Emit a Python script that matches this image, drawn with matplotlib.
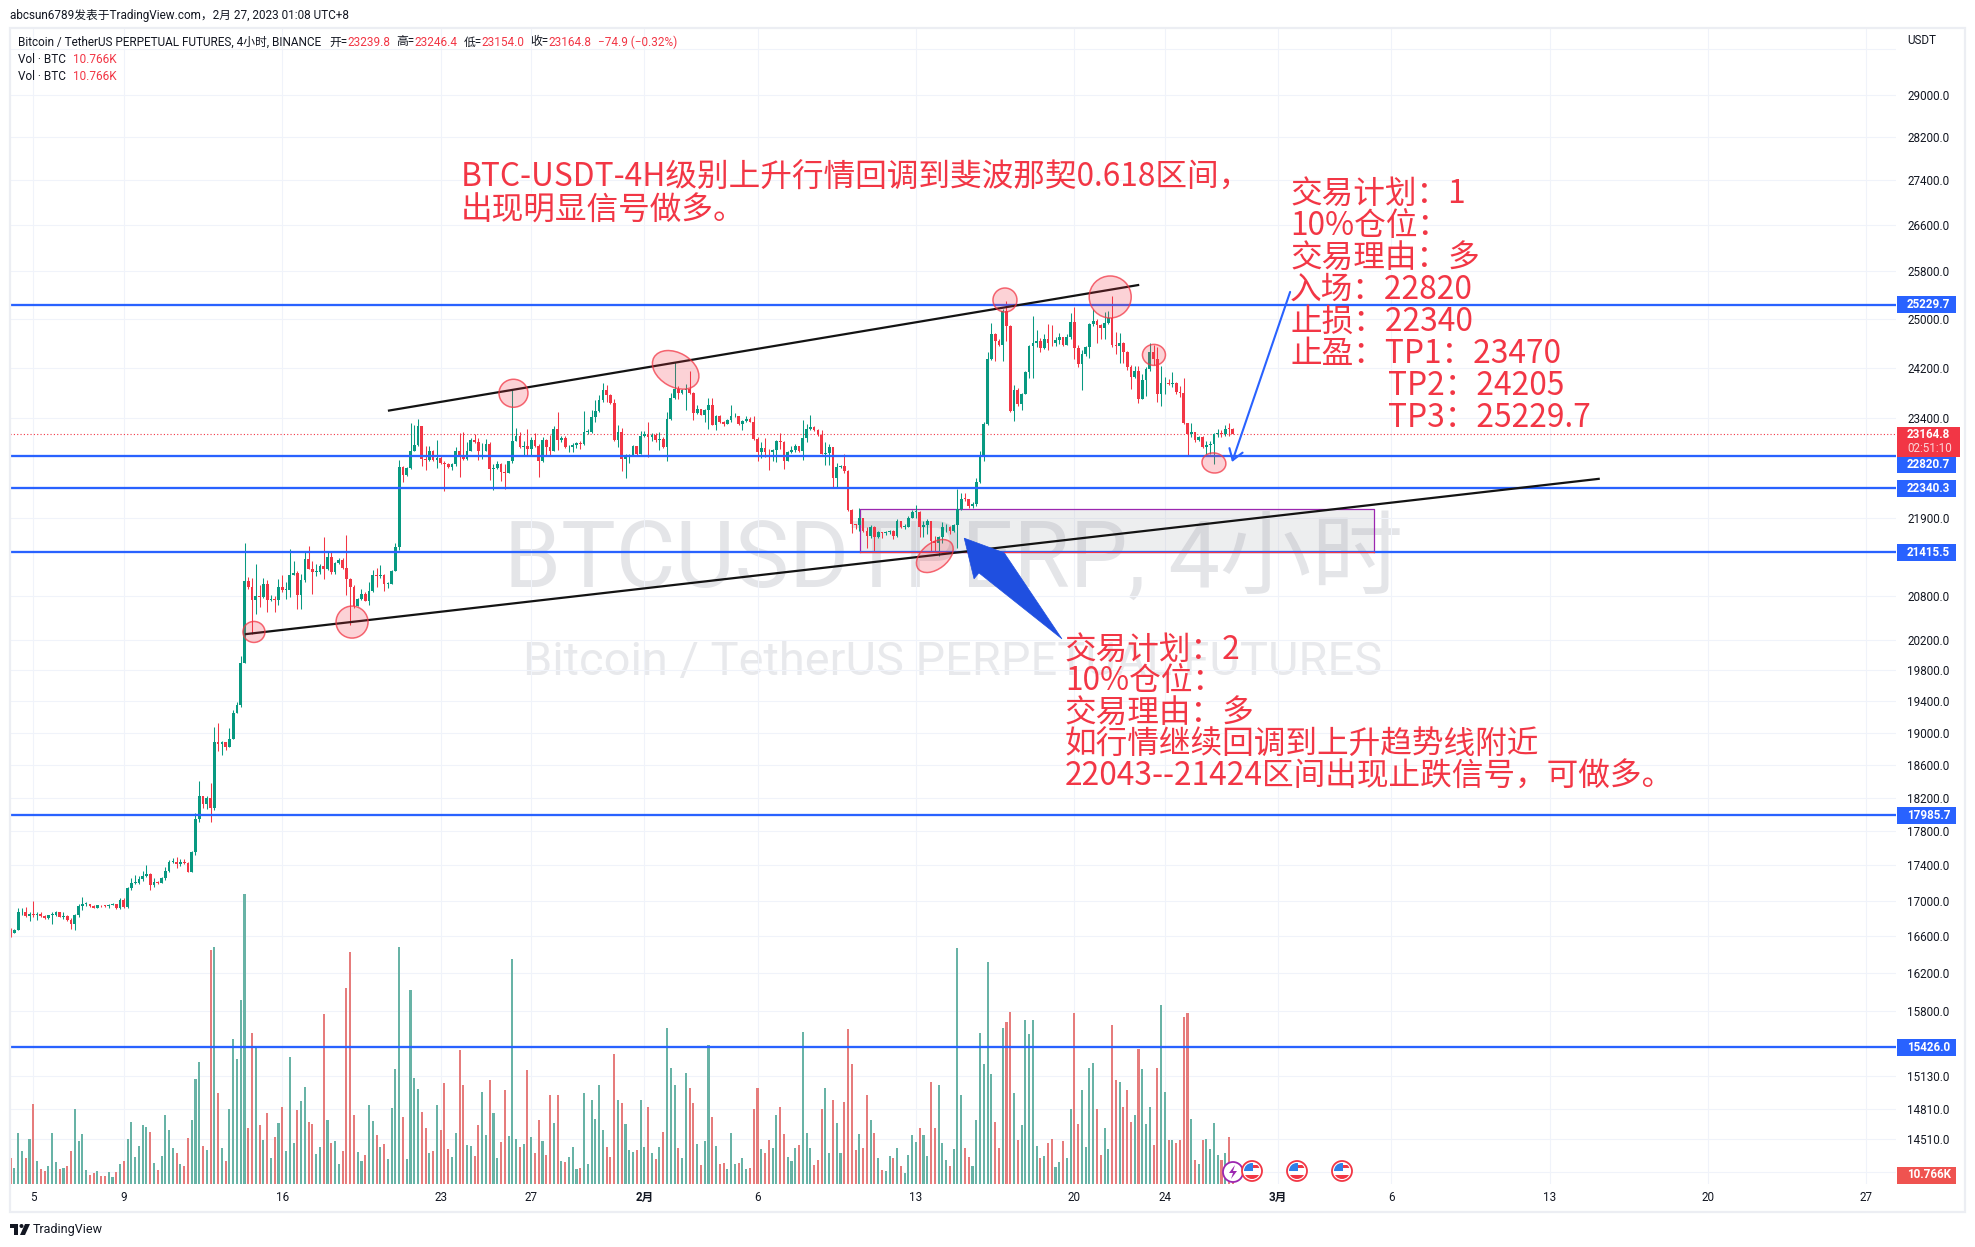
"""
Bitcoin / TetherUS perpetual 4h chart with hand drawn trade plan, TradingView style.
"""

import numpy as np
import matplotlib
matplotlib.use("Agg")
import matplotlib.pyplot as plt
from matplotlib.patches import Circle, Ellipse, Polygon, Rectangle
from matplotlib.ticker import NullLocator
from matplotlib.transforms import Affine2D, IdentityTransform

W, H = 1975, 1247

# 4h candles, first bar 4 Jan 00:00; each open is the close before it
first_open = 16675
close = [
    16633, 16668, 16866, 16866, 16824, 16854, 16835, 16854, 16824, 16809,
    16835, 16843, 16866, 16820, 16828, 16782, 16733, 16843, 16942, 16957,
    16961, 16938, 16915, 16946, 16944, 16938, 16950, 16957, 16915, 17007,
    16923, 17140, 17197, 17197, 17243, 17281, 17300, 17171, 17209, 17197,
    17251, 17331, 17441, 17445, 17414, 17445, 17426, 17327, 17552, 17940,
    18216, 18118, 18191, 18072, 18882, 18861, 18878, 18816, 18915, 19252,
    19355, 19902, 21011, 20928, 20744, 20804, 20785, 20969, 20744, 20762,
    20753, 20928, 20882, 20891, 21098, 21126, 20822, 21020, 21319, 21181,
    21135, 21135, 21218, 21172, 21342, 21135, 21259, 21310, 21195, 21034,
    20928, 20666, 20767, 20831, 20739, 20868, 21098, 21080, 21098, 20965,
    20974, 21149, 21494, 22662, 22534, 22638, 22907, 22998, 23275, 22781,
    22757, 22897, 22771, 22796, 22712, 22702, 22657, 22697, 22907, 22831,
    22781, 22907, 23063, 23043, 22897, 22907, 23013, 22633, 22638, 22707,
    22583, 22574, 22747, 23058, 23134, 22957, 22972, 22937, 23063, 22982,
    22747, 23073, 22957, 22897, 23240, 23073, 23099, 22957, 22957, 22993,
    23023, 23013, 23190, 23190, 23417, 23513, 23680, 23847, 23768, 23640,
    23073, 23186, 22785, 22816, 22836, 22980, 22847, 23124, 23160, 23119,
    23145, 23073, 23083, 22965, 23392, 23726, 23854, 23792, 23839, 23854,
    23792, 23484, 23546, 23458, 23535, 23607, 23304, 23443, 23340, 23314,
    23376, 23433, 23433, 23314, 23366, 23392, 23350, 23083, 22888, 22939,
    22888, 22878, 22914, 23057, 23032, 22749, 22878, 22914, 22970, 22898,
    23093, 23237, 23263, 23227, 23150, 22852, 22867, 22965, 22492, 22662,
    22672, 22595, 22025, 21816, 21802, 21898, 21720, 21648, 21782, 21624,
    21696, 21686, 21706, 21720, 21648, 21864, 21777, 21782, 21912, 21994,
    21994, 21768, 21802, 21864, 21576, 21552, 21624, 21768, 21777, 21720,
    21802, 22034, 22190, 22181, 22083, 22107, 22428, 22826, 23310, 24336,
    24743, 24635, 24565, 25130, 24879, 23518, 23840, 23622, 23778, 24133,
    24543, 24597, 24635, 24510, 24662, 24607, 24597, 24651, 24689, 24565,
    24689, 24945, 24510, 24261, 24418, 24526, 24906, 24960, 24890, 24853,
    24935, 25018, 24565, 24554, 24597, 24456, 24203, 24058, 24149, 23710,
    24005, 24176, 24445, 24347, 23778, 23952, 23963, 23936, 23952, 23815,
    23804, 23325, 23161, 23197, 23060, 23110, 22953, 22988, 23003, 23161,
    23182, 23161, 23243, 23239.8, 23164.8,
]
high = [
    16690, 16683, 16912, 16912, 16923, 16866, 16995, 16866, 16874, 16843,
    16843, 16874, 16881, 16874, 16874, 16835, 16805, 16851, 16957, 17037,
    16980, 16965, 16953, 16953, 16953, 16953, 16965, 16972, 16965, 17026,
    17026, 17148, 17254, 17292, 17273, 17331, 17407, 17308, 17254, 17224,
    17262, 17376, 17464, 17491, 17502, 17471, 17471, 17445, 17567, 18011,
    18401, 18224, 18216, 18381, 19067, 19120, 18890, 18882, 19055, 19285,
    19396, 19994, 21540, 21066, 21052, 21250, 20951, 21052, 21020, 20822,
    20804, 21043, 21098, 21000, 21457, 21296, 21144, 21112, 21411, 21503,
    21296, 21250, 21250, 21632, 21411, 21411, 21273, 21328, 21328, 21664,
    21052, 20951, 20776, 20896, 20850, 20997, 21158, 21185, 21236, 21112,
    21000, 21158, 21540, 22762, 22672, 22657, 23326, 23300, 23392, 23275,
    22972, 22972, 22921, 23073, 22831, 22746, 22722, 22722, 22962, 23174,
    23190, 23033, 23099, 23159, 23093, 23023, 23083, 23043, 22697, 22756,
    22722, 22697, 22756, 23850, 23250, 23190, 23048, 23235, 23108, 23174,
    23008, 23108, 23083, 23149, 23275, 23503, 23124, 23129, 22998, 23023,
    23043, 23048, 23513, 23235, 23538, 23680, 23760, 23955, 23923, 23777,
    23710, 23299, 23247, 22852, 22852, 22990, 22980, 23212, 23212, 23350,
    23170, 23175, 23186, 23109, 23505, 23803, 24294, 23905, 23865, 23947,
    24147, 23812, 23608, 23546, 23546, 23726, 23726, 23453, 23453, 23366,
    23392, 23607, 23484, 23443, 23381, 23443, 23417, 23443, 23109, 23042,
    23093, 22929, 22929, 23073, 23171, 23057, 22904, 22970, 23006, 22980,
    23376, 23315, 23453, 23289, 23237, 23227, 23032, 23006, 22955, 22713,
    22687, 22852, 22615, 22034, 21816, 22058, 21912, 21768, 21802, 21792,
    21720, 21706, 21720, 21735, 21735, 21888, 21864, 21816, 21936, 22024,
    22092, 22010, 21864, 21888, 21864, 21648, 21648, 21840, 21816, 21792,
    21816, 22325, 22278, 22278, 22190, 22141, 22500, 22900, 23346, 24445,
    24935, 24760, 24662, 25155, 25295, 24890, 23920, 23883, 23804, 24149,
    24565, 25045, 24814, 24673, 24743, 24906, 24890, 24689, 24770, 24689,
    24743, 25089, 25194, 24565, 24488, 24543, 24935, 25155, 24990, 24906,
    25111, 25128, 25369, 24781, 24760, 24618, 24472, 24240, 24229, 24229,
    24095, 24203, 24597, 24565, 24526, 24229, 24058, 24026, 24133, 23973,
    23910, 24032, 23336, 23336, 23197, 23136, 23136, 23055, 23055, 23182,
    23233, 23223, 23294, 23336, 23246.4,
]
low = [
    16599, 16633, 16668, 16843, 16816, 16767, 16816, 16778, 16813, 16790,
    16797, 16740, 16828, 16813, 16797, 16774, 16683, 16672, 16813, 16893,
    16938, 16927, 16911, 16911, 16930, 16930, 16919, 16946, 16907, 16907,
    16915, 16919, 17121, 17186, 17186, 17216, 17262, 17121, 17152, 17190,
    17194, 17235, 17323, 17433, 17369, 17396, 17418, 17323, 17323, 17521,
    17910, 18076, 18068, 17910, 18052, 18767, 18726, 18779, 18816, 18915,
    19244, 19320, 19893, 20905, 20284, 20560, 20652, 20776, 20583, 20730,
    20583, 20675, 20859, 20767, 20790, 21089, 20629, 20620, 20997, 21172,
    20836, 21080, 21112, 21043, 21158, 21112, 21112, 21250, 21181, 20822,
    20399, 20638, 20666, 20753, 20730, 20675, 20850, 20928, 21052, 20868,
    20914, 20965, 21144, 21440, 22435, 22524, 22623, 22895, 22982, 22672,
    22613, 22746, 22756, 22648, 22707, 22301, 22647, 22608, 22672, 22514,
    22761, 22771, 22895, 23023, 22757, 22781, 22895, 22460, 22316, 22623,
    22450, 22336, 22564, 22722, 23048, 22947, 22845, 22845, 22845, 22962,
    22514, 22736, 22821, 22821, 22895, 22921, 23033, 22947, 22887, 22881,
    22947, 22937, 22998, 23164, 23174, 23351, 23503, 23650, 23660, 23620,
    23058, 22955, 22605, 22492, 22713, 22836, 22836, 22847, 23109, 22816,
    23058, 23042, 22913, 22939, 22749, 23382, 23700, 23700, 23777, 23535,
    23777, 23381, 23468, 23453, 23350, 23237, 23299, 23222, 23330, 23278,
    23314, 23350, 23418, 23304, 23222, 23350, 23340, 23073, 22749, 22801,
    22816, 22610, 22751, 22736, 22929, 22626, 22749, 22867, 22878, 22888,
    22766, 23032, 23227, 23212, 23135, 22847, 22681, 22681, 22338, 22351,
    22646, 22570, 22010, 21686, 21744, 21720, 21696, 21480, 21610, 21432,
    21610, 21619, 21658, 21672, 21600, 21638, 21763, 21753, 21768, 21898,
    21912, 21624, 21624, 21672, 21432, 21432, 21360, 21552, 21696, 21672,
    21706, 21480, 22024, 22157, 22058, 22058, 22073, 22418, 22751, 23295,
    24320, 24310, 24543, 24310, 24635, 23503, 23362, 23596, 23534, 23778,
    24042, 24042, 24526, 24445, 24499, 24488, 24543, 24543, 24580, 24554,
    24565, 24662, 24336, 24203, 23847, 24390, 24363, 24879, 24607, 24662,
    24662, 24906, 24526, 24418, 24283, 24283, 24165, 23857, 24042, 23638,
    23700, 23752, 24149, 24240, 23648, 23596, 23778, 23920, 23899, 23778,
    23742, 23310, 22826, 23110, 23035, 23045, 22938, 22852, 22852, 22700,
    23110, 23110, 23136, 23136, 23154.0,
]
# volume per bar, thousands of BTC
volume = [
    31, 19, 61, 39, 31, 54, 96, 27, 18, 15, 22, 61, 26, 18, 19, 22, 39, 90, 52, 60,
    17, 11, 13, 16, 10, 10, 14, 8, 14, 24, 28, 54, 74, 32, 46, 70, 68, 62, 25, 17,
    34, 82, 64, 43, 37, 24, 22, 55, 76, 126, 146, 46, 41, 280, 284, 109, 43, 28, 90, 174,
    149, 220, 347, 67, 181, 163, 70, 53, 85, 31, 56, 73, 92, 40, 152, 49, 89, 99, 116, 74,
    72, 36, 44, 203, 76, 49, 52, 24, 40, 234, 278, 82, 38, 28, 35, 94, 75, 59, 44, 48,
    30, 91, 137, 283, 80, 30, 232, 127, 114, 86, 67, 37, 40, 94, 64, 121, 42, 32, 61, 160,
    119, 47, 46, 34, 71, 110, 59, 124, 85, 31, 50, 112, 58, 269, 54, 44, 48, 136, 56, 37,
    76, 52, 35, 106, 73, 106, 28, 26, 32, 44, 18, 19, 109, 24, 101, 78, 118, 64, 44, 32,
    155, 100, 97, 72, 41, 38, 41, 100, 44, 92, 37, 30, 44, 62, 187, 139, 119, 43, 31, 133,
    115, 97, 48, 23, 52, 166, 80, 46, 24, 25, 18, 61, 24, 25, 31, 18, 19, 90, 115, 42,
    37, 53, 43, 83, 92, 60, 32, 28, 43, 47, 182, 61, 43, 23, 29, 90, 115, 37, 101, 73,
    37, 98, 185, 144, 41, 60, 43, 106, 76, 61, 31, 17, 16, 34, 31, 43, 22, 13, 35, 59,
    50, 67, 59, 34, 122, 67, 118, 49, 29, 22, 42, 282, 106, 43, 32, 22, 76, 180, 144, 266,
    131, 74, 43, 186, 194, 206, 109, 53, 71, 196, 179, 196, 46, 31, 34, 49, 54, 20, 26, 52,
    31, 90, 204, 72, 112, 44, 139, 145, 90, 35, 67, 42, 190, 124, 122, 92, 112, 74, 82, 161,
    137, 72, 92, 47, 139, 214, 110, 53, 53, 49, 53, 200, 204, 78, 29, 24, 53, 54, 42, 73,
    35, 29, 37, 56, 10.766,
]

# bar index of each date label on the time axis
date_bars = [6, 30, 72, 114, 138, 168, 198, 240, 282, 306, 336, 366, 408, 450, 492]
date_labels = ["5", "9", "16", "23", "27", "2月", "6", "13", "20", "24", "3月", "6", "13", "20", "27"]

price_ticks = [29900, 29000, 28200, 27400, 26600, 25800, 25000, 24200, 23400, 21900, 20800,
               20200, 19800, 19400, 19000, 18600, 18200, 17800, 17400, 17000, 16600, 16200,
               15800, 15130, 14810, 14510, 14200]
hidden_ticks = [29900, 14200]

levels = [25229.7, 22820.7, 22340.3, 21415.5, 17985.7, 15426.0]
last_price = 23164.8

# trend lines: bar, price
upper_trend_bars = [100.3, 298.9]
upper_trend_prices = [23522, 25562]
lower_trend_bars = [62.4, 421.0]
lower_trend_prices = [20283, 22481]

# buy zone from the note: 22043--21424
zone_bars = [225.2, 361.4]
zone_prices = [21424, 22043]

# touch markers on the trend lines
mark_bars = [263.6, 291.5, 303.1, 319.0, 245.0, 133.3, 176.3, 64.5, 90.5]
mark_prices = [25310, 25361, 24406, 22719, 21360, 23793, 24165, 20312, 20445]
mark_w = [24, 42, 23, 24, 42, 29, 50, 22, 32]
mark_h = [24, 42, 21, 20, 26, 28, 34, 21, 32]
mark_angle = [0, 0, 0, -10, 38, 0, -30, 0, 0]

big_arrow_bars = [252.8, 263.4, 278.7, 256.7, 255.4]
big_arrow_prices = [21614, 21405, 20219, 21122, 21040]

UI_FONT = ["Roboto", "Noto Sans CJK SC"]
CJK_FONT = ["Noto Sans CJK SC", "DejaVu Sans"]
GREEN = "#089981"
RED = "#f23645"
BLUE = "#2962ff"
GRID = "#f0f3fa"
INK = "#131722"

LEFT, RIGHT, TOP, BOTTOM = 10, 1896, 28, 1184
BAR0_X, BAR_PITCH = 10.67, 3.772
PRICE_AT_TOP, PRICE_AT_BOTTOM = 30310, 14088
VOL_PER_PX = 1.196

# pixel coordinates, origin top left, for everything outside the plot area
PX = Affine2D().scale(1, -1).translate(0, H)

close = np.array(close, dtype=float)
high = np.array(high, dtype=float)
low = np.array(low, dtype=float)
volume = np.array(volume, dtype=float)
open_ = np.r_[first_open, close[:-1]]
bars = np.arange(len(close))
up = close >= open_

fig = plt.figure(figsize=(W / 100, H / 100), dpi=100, facecolor="white")
rect = [LEFT / W, 1 - BOTTOM / H, (RIGHT - LEFT) / W, (BOTTOM - TOP) / H]
xlim = ((LEFT - BAR0_X) / BAR_PITCH, (RIGHT - BAR0_X) / BAR_PITCH)

# bottom layer: grid and axis labels
ax_grid = fig.add_axes(rect, zorder=0)
ax_grid.set_yscale("log")
ax_grid.set_xlim(xlim)
ax_grid.set_ylim(PRICE_AT_BOTTOM, PRICE_AT_TOP)
ax_grid.yaxis.tick_right()
ax_grid.set_yticks(price_ticks)
ax_grid.set_yticklabels(["" if t in hidden_ticks else f"{t:.1f}" for t in price_ticks],
                        family=UI_FONT, fontsize=8.4, color=INK)
ax_grid.yaxis.set_minor_locator(NullLocator())
ax_grid.set_xticks(date_bars)
ax_grid.set_xticklabels(date_labels, family=UI_FONT, fontsize=8.4, color=INK)
for lab, txt in zip(ax_grid.get_xticklabels(), date_labels):
    if "月" in txt:
        lab.set_fontweight("bold")
ax_grid.tick_params(axis="both", which="both", length=0)
ax_grid.tick_params(axis="y", pad=8)
ax_grid.tick_params(axis="x", pad=5)
ax_grid.grid(True, color=GRID, linewidth=0.8)
ax_grid.set_axisbelow(True)
for s in ax_grid.spines.values():
    s.set_visible(False)

ax_grid.text(0.5005, 0.539, "BTCUSDTPERP, 4小时", transform=ax_grid.transAxes, ha="center", va="center",
             family=UI_FONT, fontsize=66, color="#e4e5e8", zorder=0.5)
ax_grid.text(0.5, 0.4516, "Bitcoin / TetherUS PERPETUAL FUTURES", transform=ax_grid.transAxes, ha="center",
             va="center", family=UI_FONT, fontsize=33.8, color="#e8e9ec", zorder=0.5)

# middle layer: volume
ax_vol = fig.add_axes(rect, zorder=1)
ax_vol.patch.set_visible(False)
ax_vol.set_xlim(xlim)
ax_vol.set_ylim(0, (BOTTOM - TOP) * VOL_PER_PX)
ax_vol.bar(bars, volume, width=0.55, color=np.where(up, "#68b3a6", "#e67c7c"), linewidth=0)
ax_vol.axis("off")

# top layer: candles and drawings
ax = fig.add_axes(rect, zorder=2)
ax.patch.set_visible(False)
ax.set_yscale("log")
ax.set_xlim(xlim)
ax.set_ylim(PRICE_AT_BOTTOM, PRICE_AT_TOP)
ax.axis("off")

candle_colors = np.where(up, GREEN, RED)
ax.vlines(bars, low, high, colors=candle_colors, linewidth=0.75, zorder=3)
body = np.maximum(np.abs(close - open_), 10)
ax.bar(bars, body, bottom=np.minimum(open_, close), width=0.72, color=candle_colors, linewidth=0, zorder=3.1)

ax.axhline(last_price, color=RED, linewidth=0.8, linestyle=(0, (1, 2)), zorder=2)
for level in levels:
    ax.axhline(level, color=BLUE, linewidth=1.65, zorder=4)

ax.add_patch(Rectangle((zone_bars[0], zone_prices[0]), zone_bars[1] - zone_bars[0],
                       zone_prices[1] - zone_prices[0], facecolor="#9598a1", alpha=0.16, linewidth=0, zorder=2))
ax.plot([zone_bars[0], zone_bars[0], zone_bars[1], zone_bars[1]],
        [zone_prices[0], zone_prices[1], zone_prices[1], zone_prices[0]],
        color="#9c27b0", linewidth=0.9, zorder=2.5)
ax.plot(zone_bars, [zone_prices[0], zone_prices[0]], color=RED, linewidth=0.9, zorder=4.5)

ax.plot(upper_trend_bars, upper_trend_prices, color="#131313", linewidth=1.6, zorder=5)
ax.plot(lower_trend_bars, lower_trend_prices, color="#131313", linewidth=1.6, zorder=5)

for b, p, w, h, a in zip(mark_bars, mark_prices, mark_w, mark_h, mark_angle):
    xy = ax.transData.transform((b, p))
    ax.add_patch(Ellipse(xy, w, h, angle=a, transform=IdentityTransform(), facecolor=(0.949, 0.212, 0.271, 0.22),
                         edgecolor=(0.949, 0.212, 0.271, 0.75), linewidth=1.1, zorder=6))

ax.add_patch(Polygon(np.column_stack([big_arrow_bars, big_arrow_prices]), closed=True,
                     facecolor="#1f4fe0", edgecolor="#1f4fe0", linewidth=0.5, zorder=7))
ax.annotate("", xy=(323.8, 22733), xytext=(339.2, 25446), zorder=7,
            arrowprops=dict(arrowstyle="->,head_length=0.75,head_width=0.5", color=BLUE, linewidth=1.5,
                            shrinkA=0, shrinkB=0))


def label_box(y, text, color, x1=1956):
    fig.add_artist(Rectangle((1897, y - 8.5), x1 - 1897, 17, transform=PX, facecolor=color, linewidth=0, zorder=5))
    fig.text(1907, y, text, transform=PX, color="white", family=UI_FONT, fontsize=8.4, fontweight="bold",
             ha="left", va="center", zorder=6)


def price_px(price):
    return H - ax.transData.transform((0, price))[1]


for level in levels:
    label_y = price_px(level)
    if level == 22820.7:
        label_y += 8  # pushed down by the last price label
    label_box(label_y, f"{level:.1f}", BLUE)

# last price with countdown
fig.add_artist(Rectangle((1897, 426.5), 63, 30, transform=PX, facecolor=RED, linewidth=0, zorder=5))
fig.text(1907, 434.5, f"{last_price:.1f}", transform=PX, color="white", family=UI_FONT, fontsize=8.4,
         fontweight="bold", va="center", zorder=6)
fig.text(1907, 449, "02:51:10", transform=PX, color="#fbd5d8", family=UI_FONT, fontsize=8.4,
         va="center", zorder=6)
label_box(1175, "10.766K", "#ef5350")

fig.text(1907, 41, "USDT", transform=PX, color=INK, family=UI_FONT, fontsize=8.4, va="center", zorder=6)

# pane frame
fig.add_artist(Rectangle((10, 28), 1955, 1184, transform=PX, fill=False, edgecolor="#eceef3", linewidth=1.6, zorder=4))


def text_run(x, y, parts, size=8.5):
    renderer = fig.canvas.get_renderer()
    for s, color, gap in parts:
        t = fig.text(x, y, s, transform=PX, color=color, family=UI_FONT, fontsize=size, va="center", zorder=6)
        x = t.get_window_extent(renderer).x1 + gap


fig.text(10, 16, "abcsun6789发表于TradingView.com，2月 27, 2023 01:08 UTC+8", transform=PX, color=INK,
         family=UI_FONT, fontsize=8.45, va="center")
text_run(18, 42, [("Bitcoin / TetherUS PERPETUAL FUTURES, 4小时, BINANCE", INK, 8),
                  ("开=", INK, 0), ("23239.8", RED, 6), ("高=", INK, 0), ("23246.4", RED, 6),
                  ("低=", INK, 0), ("23154.0", RED, 6), ("收=", INK, 0), ("23164.8", RED, 6),
                  ("−74.9 (−0.32%)", RED, 0)])
for y in (59.5, 76):
    text_run(18, y, [("Vol · BTC", INK, 7), ("10.766K", RED, 0)])


def note(x, y, s):
    fig.text(x, y, s, transform=PX, color=RED, family=CJK_FONT, fontsize=22.8, va="center", zorder=8)


note(461, 178, "BTC-USDT-4H级别上升行情回调到斐波那契0.618区间，")
note(461, 211, "出现明显信号做多。")

for y, s in zip([194, 226, 258, 290, 322, 354], ["交易计划：1", "10%仓位：", "交易理由：多", "入场：22820", "止损：22340", "止盈：TP1：23470"]):
    note(1290, y, s)
note(1388, 386, "TP2：24205")
note(1388, 418, "TP3：25229.7")

for y, s in zip([650, 681, 713, 745, 777],
                ["交易计划：2", "10%仓位：", "交易理由：多", "如行情继续回调到上升趋势线附近",
                 "22043--21424区间出现止跌信号，可做多。"]):
    note(1065, y, s)

# event markers on the time scale
fig.add_artist(Circle((1233, 1172), 10, transform=PX, facecolor="white", edgecolor="#9c27b0", linewidth=1.3, zorder=7))
fig.add_artist(Polygon([(1235, 1165), (1229, 1173), (1233, 1173), (1231, 1179), (1237, 1171), (1233, 1171)],
                       transform=PX, facecolor="#9c27b0", linewidth=0, zorder=7.1))
for cx in (1252, 1297, 1342):
    ring = Circle((cx, 1171), 10, transform=PX, facecolor="white", edgecolor=RED, linewidth=1.3, zorder=7)
    fig.add_artist(ring)
    for box, color in [((cx - 10, 1162, 11, 9), "#2f7fe8"), ((cx + 1, 1165, 9, 3), RED), ((cx - 10, 1175, 20, 6), RED)]:
        stripe = Rectangle(box[:2], box[2], box[3], transform=PX, facecolor=color, linewidth=0, zorder=7.1)
        fig.add_artist(stripe)
        stripe.set_clip_path(Circle((cx, 1171), 8, transform=PX))

# TradingView mark
for pts in ([(10, 1224), (18, 1224), (18, 1235), (14, 1235), (14, 1228), (10, 1228)],
            [(25, 1224), (30, 1224), (25, 1235), (20, 1235)]):
    fig.add_artist(Polygon(pts, transform=PX, facecolor=INK, linewidth=0))
fig.add_artist(Circle((21.5, 1226), 2, transform=PX, facecolor=INK, linewidth=0))
fig.text(33, 1229.5, "TradingView", transform=PX, color=INK, family=UI_FONT, fontsize=9, va="center")

fig.savefig("out.png", dpi=100, facecolor="white")
plt.close(fig)
